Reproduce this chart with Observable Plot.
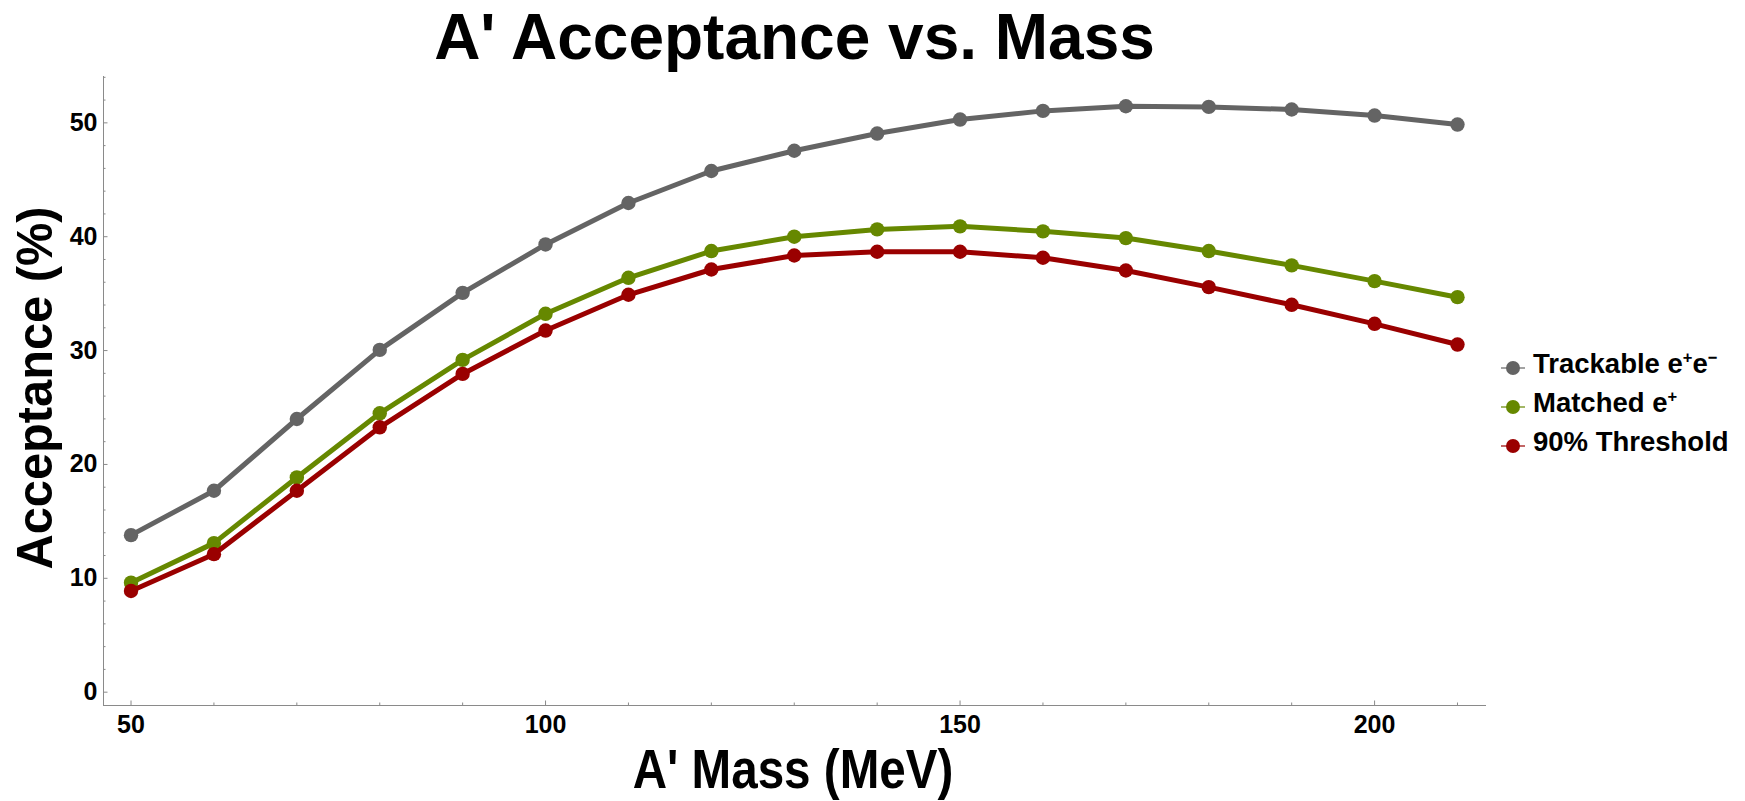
<!DOCTYPE html>
<html>
<head>
<meta charset="utf-8">
<script src="https://cdn.jsdelivr.net/npm/d3@7"></script>
<script src="https://cdn.jsdelivr.net/npm/@observablehq/plot@0.6"></script>
<style>
  html, body { margin: 0; padding: 0; background: #fff; overflow: hidden; }
  body { width: 1745px; height: 801px; font-family: "Liberation Sans", Arial, sans-serif; }
  #title {
    height: 75px; line-height: 75px; margin-left: 103px; width: 1383px;
    text-align: center; font-size: 64px; font-weight: bold; color: #000; white-space: nowrap;
  }
  #row { display: flex; height: 726px; }
  #legend { width: 255px; padding-top: 270px; box-sizing: border-box; }
  .item { display: flex; align-items: center; height: 38.8px; font-size: 27.5px; font-weight: bold; color: #000; white-space: nowrap; }
  .item svg { margin-left: 11px; margin-right: 8px; position: relative; top: 4px; flex: none; }
  .item sup { font-size: 0.6em; line-height: 0; vertical-align: 0.6em; }
</style>
</head>
<body>
<div id="title">A' Acceptance vs. Mass</div>
<div id="row">
  <div id="chart"></div>
  <div id="legend"></div>
</div>
<script>
// A' mass points (MeV)
const mass = [50, 60, 70, 80, 90, 100, 110, 120, 130, 140, 150, 160, 170, 180, 190, 200, 210];

// Acceptance (%) for each selection
const trackable = [13.79, 17.69, 23.99, 30.06, 35.07, 39.32, 42.96, 45.77, 47.55, 49.06, 50.29, 51.05, 51.46, 51.40, 51.17, 50.64, 49.85];
const matched   = [9.62, 13.09, 18.86, 24.49, 29.18, 33.23, 36.39, 38.74, 40.00, 40.64, 40.91, 40.47, 39.88, 38.74, 37.48, 36.10, 34.69];
const threshold = [8.89, 12.12, 17.69, 23.26, 27.95, 31.76, 34.90, 37.12, 38.35, 38.68, 38.68, 38.15, 37.03, 35.57, 34.02, 32.35, 30.53];

const seriesNames = ["Trackable e+e-", "Matched e+", "90% Threshold"];
const seriesValues = [trackable, matched, threshold];

// Axis ticks
const xMajorTicks = [50, 100, 150, 200];
const xMinorTicks = [60, 70, 80, 90, 110, 120, 130, 140, 160, 170, 180, 190, 210];
const yMajorTicks = [0, 10, 20, 30, 40, 50];
const yMinorTicks = [2, 4, 6, 8, 12, 14, 16, 18, 22, 24, 26, 28, 32, 34, 36, 38, 42, 44, 46, 48, 52, 54];

// Presentation
const seriesColors = ["#646464", "#668800", "#9a0000"];
const axisColor = "#8a8a8a";
const xDomain = [46.68, 213.5];
const yDomain = [-1.17, 54.07];
const xTitle = "A' Mass (MeV)";
const yTitle = "Acceptance (%)";

const rows = seriesNames.flatMap((name, s) =>
  mass.map((m, i) => ({series: name, mass: m, value: seriesValues[s][i]}))
);

// each series: its line, then its points on top
const seriesMarks = seriesNames.flatMap((name) => {
  const sub = rows.filter((d) => d.series === name);
  return [
    Plot.line(sub, {x: "mass", y: "value", stroke: "series", strokeWidth: 5, strokeLinejoin: "round"}),
    Plot.dot(sub, {x: "mass", y: "value", fill: "series", r: 7.2})
  ];
});

const chart = Plot.plot({
  width: 1490,
  height: 726,
  marginLeft: 103,
  marginRight: 4,
  marginTop: 1,
  marginBottom: 96,
  style: {fontFamily: "'Liberation Sans', Arial, sans-serif", background: "#fff", overflow: "visible", color: "#000"},
  x: {domain: xDomain, label: null},
  y: {domain: yDomain, label: null},
  color: {domain: seriesNames, range: seriesColors},
  marks: [
    // axis lines
    Plot.ruleX([xDomain[0]], {stroke: axisColor, strokeWidth: 1}),
    Plot.ruleY([yDomain[0]], {stroke: axisColor, strokeWidth: 1}),
    // inward tick marks
    Plot.axisY(yMajorTicks, {anchor: "left", tickSize: 4.5, dx: 4.5, fill: null, stroke: axisColor, label: null}),
    Plot.axisY(yMinorTicks, {anchor: "left", tickSize: 2.5, dx: 2.5, fill: null, stroke: axisColor, label: null}),
    Plot.axisX(xMajorTicks, {anchor: "bottom", tickSize: 4.5, dy: -4.5, fill: null, stroke: axisColor, label: null}),
    Plot.axisX(xMinorTicks, {anchor: "bottom", tickSize: 2.5, dy: -2.5, fill: null, stroke: axisColor, label: null}),
    // tick labels
    Plot.axisY(yMajorTicks, {anchor: "left", tickSize: 0, tickPadding: 6, fontSize: 25, fontWeight: "bold", fill: "#000", label: null}),
    Plot.axisX(xMajorTicks, {anchor: "bottom", tickSize: 0, tickPadding: 10, fontSize: 25, fontWeight: "bold", fill: "#000", label: null}),
    // axis titles
    Plot.text([xTitle], {text: (d) => d, frameAnchor: "bottom", textAnchor: "middle", dx: -2, dy: 82, lineAnchor: "bottom", fontSize: 56, fontWeight: "bold", fill: "#000"}),
    Plot.text([yTitle], {text: (d) => d, frameAnchor: "left", textAnchor: "middle", rotate: -90, dx: -52, dy: -3, lineAnchor: "bottom", fontSize: 50, fontWeight: "bold", fill: "#000"}),
    ...seriesMarks
  ]
});

document.getElementById("chart").appendChild(chart);

// condensed axis titles: squeeze each around its own centre
const svgNS = "http://www.w3.org/2000/svg";
const squeeze = (str, kx, ky) => {
  const t = [...chart.querySelectorAll("text")].find((e) => e.textContent === str);
  if (!t) return;
  let g = t;
  while (g.parentNode && g.parentNode !== chart) g = g.parentNode;
  const box = chart.getBoundingClientRect();
  const r = t.getBoundingClientRect();
  const cx = r.x + r.width / 2 - box.x;
  const cy = r.y + r.height / 2 - box.y;
  const wrap = document.createElementNS(svgNS, "g");
  wrap.setAttribute("transform", `translate(${cx},${cy}) scale(${kx},${ky}) translate(${-cx},${-cy})`);
  chart.insertBefore(wrap, g);
  wrap.appendChild(g);
};
squeeze(xTitle, 0.85, 1);
squeeze(yTitle, 1, 0.975);

// legend: marker with a short line, then the label
const legendLabels = ["Trackable e<sup>+</sup>e<sup>\u2212</sup>", "Matched e<sup>+</sup>", "90% Threshold"];
const legend = document.getElementById("legend");
legendLabels.forEach((html, i) => {
  const item = document.createElement("div");
  item.className = "item";
  const c = seriesColors[i];
  item.innerHTML =
    `<svg width="24" height="16" viewBox="0 0 24 16">` +
    `<line x1="0" y1="8" x2="24" y2="8" stroke="${c}" stroke-width="1.2"/>` +
    `<circle cx="12" cy="8" r="7" fill="${c}"/></svg><span>${html}</span>`;
  legend.appendChild(item);
});
</script>
</body>
</html>
